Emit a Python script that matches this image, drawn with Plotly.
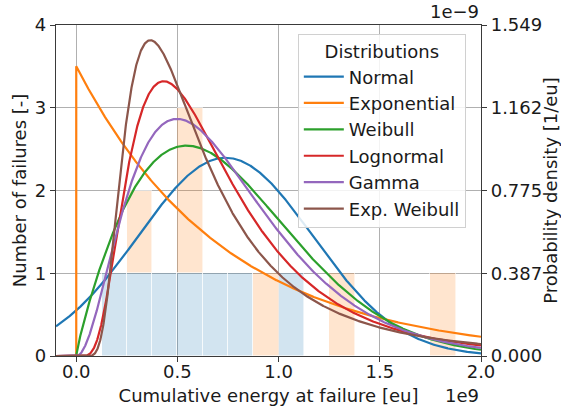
import math
import numpy as np
import plotly.graph_objects as go

# ---- failure histogram (stacked counts, bins of 0.125e9 eu) ----
bin_width = 0.125e9
bin_left_edges = [i * bin_width for i in range(16)]
counts_lower = [0, 1, 1, 1, 1, 1, 1, 0, 1, 0, 0, 0, 0, 0, 0, 0]
counts_upper = [0, 0, 1, 0, 2, 0, 0, 1, 0, 0, 1, 0, 0, 0, 1, 0]

# ---- fitted distribution parameters (energy in eu) ----
normal_mu, normal_sigma = 0.7375e9, 0.43e9
expon_scale = 0.7375e9
weibull_shape, weibull_scale = 1.85, 0.8303e9
lognorm_sigma, lognorm_scale = 0.6, 0.619e9
gamma_shape, gamma_scale = 3.08, 0.2395e9
expweib_a, expweib_c, expweib_scale = 426.0, 0.28, 0.74e6

# ---- axis ticks ----
x_tickvals = [0.0, 0.5e9, 1.0e9, 1.5e9, 2.0e9]
x_ticktext = ["0.0", "0.5", "1.0", "1.5", "2.0"]
count_ticks = [0, 1, 2, 3, 4]
density_max = 1.549e-9
density_ticktext = ["0.000", "0.387", "0.775", "1.162", "1.549"]

names = ["Normal", "Exponential", "Weibull", "Lognormal", "Gamma", "Exp. Weibull"]
colors = ["#1f77b4", "#ff7f0e", "#2ca02c", "#d62728", "#9467bd", "#8c564b"]

x = np.linspace(-0.1e9, 2.0e9, 1500)
x = np.sort(np.append(x, [0.0, 0.0]))
pos = x > 0
xp = np.where(pos, x, 1.0)


def pdf_normal(v):
    return np.exp(-0.5 * ((v - normal_mu) / normal_sigma) ** 2) / (normal_sigma * math.sqrt(2 * math.pi))


def pdf_expon(v):
    out = np.exp(-np.clip(v, 0, None) / expon_scale) / expon_scale
    out = np.where(v >= 0, out, 0.0)
    # vertical jump drawn at the origin
    idx = np.where(v == 0)[0]
    if len(idx) >= 2:
        out[idx[0]] = 0.0
    return out


def pdf_weibull(v):
    z = xp / weibull_scale
    out = weibull_shape / weibull_scale * z ** (weibull_shape - 1) * np.exp(-z ** weibull_shape)
    return np.where(pos, out, 0.0)


def pdf_lognorm(v):
    out = np.exp(-(np.log(xp / lognorm_scale)) ** 2 / (2 * lognorm_sigma ** 2)) / (
        xp * lognorm_sigma * math.sqrt(2 * math.pi))
    return np.where(pos, out, 0.0)


def pdf_gamma(v):
    z = xp / gamma_scale
    out = z ** (gamma_shape - 1) * np.exp(-z) / (math.gamma(gamma_shape) * gamma_scale)
    return np.where(pos, out, 0.0)


def pdf_expweib(v):
    z = xp / expweib_scale
    zc = z ** expweib_c
    out = (expweib_a * expweib_c / expweib_scale) * (1 - np.exp(-zc)) ** (expweib_a - 1) \
        * np.exp(-zc) * z ** (expweib_c - 1)
    return np.where(pos, out, 0.0)


curves = [pdf_normal(x), pdf_expon(x), pdf_weibull(x), pdf_lognorm(x), pdf_gamma(x), pdf_expweib(x)]

fig = go.Figure()

centers = [e + bin_width / 2 for e in bin_left_edges]
fig.add_trace(go.Bar(
    x=centers, y=counts_lower, width=bin_width,
    marker=dict(color="rgba(31,119,180,0.2)", line=dict(color="rgba(255,255,255,0.7)", width=0.8)),
    showlegend=False, hoverinfo="skip", yaxis="y"))
fig.add_trace(go.Bar(
    x=centers, y=counts_upper, width=bin_width,
    marker=dict(color="rgba(255,127,14,0.2)", line=dict(color="rgba(255,255,255,0.7)", width=0.8)),
    showlegend=False, hoverinfo="skip", yaxis="y"))

for i, (name, col, yv) in enumerate(zip(names, colors, curves)):
    fig.add_trace(go.Scatter(
        x=x, y=yv, mode="lines", name=name, legendgroup=name,
        line=dict(color=col, width=2.2), yaxis="y2"))

font = dict(family="DejaVu Sans", size=18, color="#1a1a1a")
axis_common = dict(
    showline=True, linecolor="#3a3a3a", linewidth=1.2,
    ticks="outside", ticklen=5, tickwidth=1.2, tickcolor="#3a3a3a",
    zeroline=False, automargin=False, tickfont=font,
)

fig.update_layout(
    width=561, height=410,
    margin=dict(l=56, r=80, t=25, b=54),
    paper_bgcolor="white", plot_bgcolor="white",
    font=font,
    barmode="stack", bargap=0,
    xaxis=dict(
        range=[-0.1e9, 2.0e9], tickvals=x_tickvals, ticktext=x_ticktext,
        showgrid=True, gridcolor="#b0b0b0", gridwidth=1, mirror=True,
        ticklabelstandoff=-6,
        title=dict(text="Cumulative energy at failure [eu]", font=font, standoff=8),
        **axis_common),
    yaxis=dict(
        range=[0, 4], tickvals=count_ticks, ticktext=[str(t) for t in count_ticks],
        showgrid=True, gridcolor="#b0b0b0", gridwidth=1,
        title=dict(text="Number of failures [-]", font=font, standoff=3),
        **axis_common),
    yaxis2=dict(
        overlaying="y", side="right", range=[0, density_max],
        tickvals=list(np.linspace(0, density_max, 5)), ticktext=density_ticktext,
        showgrid=False,
        title=dict(text="Probability density [1/eu]", font=font, standoff=3),
        **axis_common),
    legend=dict(
        x=0.569, y=0.973, xanchor="left", yanchor="top",
        bgcolor="rgba(255,255,255,0.85)", bordercolor="#d0d0d0", borderwidth=1,
        font=font, tracegroupgap=0, itemwidth=40,
        title=dict(text="Distributions", font=font, side="top center"),
    ),
    annotations=[
        dict(text="1e\u22129", xref="paper", yref="paper", x=1.0, y=1.0,
             xanchor="right", yanchor="bottom", yshift=1, showarrow=False, font=font),
        dict(text="1e9", xref="paper", yref="paper", x=1.0, y=-0.118,
             xanchor="right", yanchor="middle", showarrow=False, font=font),
    ],
)

fig.write_html("out.html")
